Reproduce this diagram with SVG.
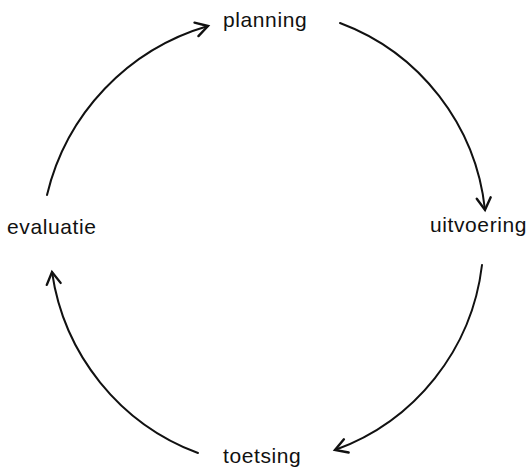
<svg xmlns="http://www.w3.org/2000/svg" width="530" height="470" viewBox="0 0 530 470">
  <style>
    .label { font-family: "Liberation Sans", Arial, sans-serif; font-size: 21px; letter-spacing: 0.6px; fill: #111; }
    .arc { fill: none; stroke: #111; stroke-width: 2; stroke-linecap: round; }
  </style>
  <defs>
    <marker id="chevron" markerUnits="userSpaceOnUse" markerWidth="30" markerHeight="30" refX="0" refY="0" viewBox="-15 -15 30 30" orient="auto" overflow="visible">
      <path d="M-12,-7 L0,0 L-12,7" fill="none" stroke="#111" stroke-width="2.4" stroke-linecap="round" stroke-linejoin="miter"/>
    </marker>
  </defs>
  <rect width="530" height="470" fill="#fff"/>

  <!-- cycle connectors -->
  <g id="connectors">
    <path class="arc" d="M47,195 A232,232 0 0 1 208,26" marker-end="url(#chevron)"/>
    <path class="arc" d="M340,23 A225,225 0 0 1 485,210" marker-end="url(#chevron)"/>
    <path class="arc" d="M482,265 A225,225 0 0 1 335,450" marker-end="url(#chevron)"/>
    <path class="arc" d="M198,453 A228,228 0 0 1 52,272" marker-end="url(#chevron)"/>
  </g>

  <g id="planning"><text class="label" x="223" y="27">planning</text></g>
  <g id="uitvoering"><text class="label" x="430" y="232">uitvoering</text></g>
  <g id="toetsing"><text class="label" x="223" y="463">toetsing</text></g>
  <g id="evaluatie"><text class="label" x="7" y="234">evaluatie</text></g>
</svg>
